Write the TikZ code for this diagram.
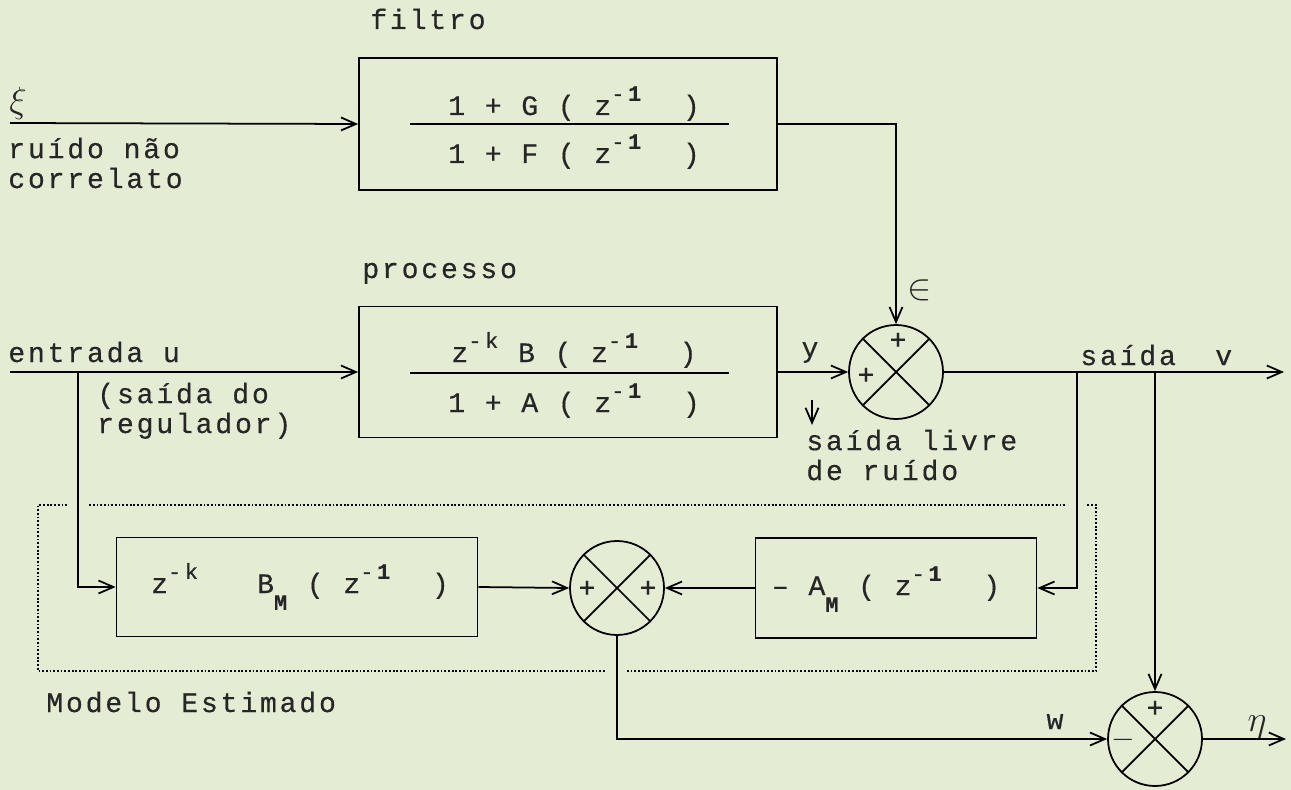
\documentclass[tikz,border=0pt]{standalone}
\usepackage{fontspec}
\usetikzlibrary{arrows.meta, positioning}
\newfontfamily\plotfont[LetterSpace=10, FakeBold=0.4]{Liberation Mono}
\definecolor{paper}{RGB}{228,237,212}
\newcommand{\sups}[1]{\raisebox{0.5em}{\fontsize{12.5}{13}\selectfont #1}}
\newcommand{\subs}[1]{\raisebox{-0.6em}{\fontsize{12.5}{13}\selectfont\bfseries #1}}
\newcommand{\zinv}{z\sups{-\,\textbf{1}}}

\begin{document}
\begin{tikzpicture}[
        x=0.02cm, y=-0.02cm,
        % blocos e somadores
        blk/.style={rectangle, draw=black, line width=1pt, inner sep=0pt},
        soma/.style={circle, draw=black, line width=1pt, minimum size=1.88cm, inner sep=0pt},
        % textos, linhas e setas
        txt/.style={font=\plotfont\fontsize{16}{17}\selectfont, text=black!85, inner sep=0pt},
        grk/.style={font=\fontsize{21}{22}\selectfont, text=black!85, inner sep=0pt},
        wire/.style={line width=1pt, draw=black},
        arrow/.style={wire, -{Straight Barb[length=3mm, width=2.6mm]}},
        model/.style={line width=1.1pt, draw=black, dash pattern=on 1pt off 1.1pt}
    ]
    \useasboundingbox[fill=paper] (0,0) rectangle (1291,790);

    % --- FILTRO ---
    \node[txt, anchor=base west] (L1) at (370,29) {filtro};
    \node[blk, minimum width=8.36cm, minimum height=2.64cm] (Filt) at (568,124) {};
    \draw[wire] (410,124) -- (729,124);
    \node[txt, anchor=base] (FiltN) at (574,115) {1 + G ( \zinv\ \ )};
    \node[txt, anchor=base] (FiltD) at (574,163) {1 + F ( \zinv\ \ )};
    \node[grk] (Xi) at (18,103) {$\xi$};
    \node[txt, anchor=base west, align=left] (L2) at (8,188) {ruído não\\correlato};

    % --- PROCESSO ---
    \node[txt, anchor=base west] (L3) at (362,278) {processo};
    \node[blk, minimum width=8.36cm, minimum height=2.62cm] (Proc) at (568,372) {};
    \draw[wire] (410,373) -- (729,373);
    \node[txt, anchor=base] (ProcN) at (574,362) {z\sups{-\,k} B ( \zinv\ \ )};
    \node[txt, anchor=base] (ProcD) at (574,412) {1 + A ( \zinv\ \ )};
    \node[txt, anchor=base west] (L4) at (8,362) {entrada~u};
    \node[txt, anchor=base west, align=left] (L5) at (97,433) {(saída do\\regulador)};

    % --- SOMADORES ---
    \node[soma] (S1) at (896,372) {};
    \node[soma] (S2) at (617,588) {};
    \node[soma] (S3) at (1155,739) {};
    \foreach \s in {S1,S2,S3} {
        \draw[wire] (\s.north west) -- (\s.south east) (\s.north east) -- (\s.south west);
    }
    \node[txt] at (898,341) {+};
    \node[txt] at (866,376) {+};
    \node[txt] at (587,589) {+};
    \node[txt] at (648,589) {+};
    \node[txt] at (1155,709) {+};
    \node[txt] at (1123,740) {$-$};

    \node[grk] (Eps) at (920,290) {$\in$};
    \node[txt, anchor=base] (Ly) at (810,357) {y};
    \node[txt, anchor=base west] (L6) at (1080,365) {saída~~v};
    \node[txt, anchor=base west, align=left] (L7) at (806,480) {saída livre\\de ruído};

    % --- MODELO ESTIMADO ---
    \node[blk, minimum width=7.22cm, minimum height=1.98cm] (BM) at (297,587) {};
    \node[txt, anchor=base] (BMtxt) at (300,593) {z\sups{-\,k}~~~B\subs{M}~(~\zinv\ \ )};
    \node[blk, minimum width=5.62cm, minimum height=2cm] (AM) at (896,588) {};
    \node[txt, anchor=base] (AMtxt) at (886,595) {\textendash~A\subs{M}~(~\zinv\ \ )};
    \node[txt, anchor=base west] (L8) at (46,712) {Modelo Estimado};
    \node[txt, anchor=base] (Lw) at (1055,729) {w};
    \node[grk] (Leta) at (1257,727) {$\eta$};

    \draw[model] (67,505) -- (38,505) -- (38,671) -- (605,671);
    \draw[model] (627,671) -- (1096,671) -- (1096,505) -- (1087,505);
    \draw[model] (1065,505) -- (88,505);

    % --- LIGACOES ---
    \coordinate (XiIn) at (10,123);
    \coordinate (UIn) at (10,372);
    \coordinate (UBr) at (78,372);
    \coordinate (Br1) at (1077,372);
    \coordinate (Br2) at (1155,372);
    \coordinate (VOut) at (1284,372);
    \coordinate (EtaOut) at (1286,739);
    \coordinate (Yd1) at (812,400);
    \coordinate (Yd2) at (812,425);

    \draw[arrow] (XiIn) -- (Filt.west);
    \draw[arrow] (Filt.east) -| (S1.north);
    \draw[arrow] (UIn) -- (Proc.west);
    \draw[arrow] (Proc.east) -- (S1.west);
    \draw[arrow] (S1.east) -- (VOut);
    \draw[arrow] (Yd1) -- (Yd2);
    \draw[arrow] (UBr) |- (BM.west);
    \draw[arrow] (BM.east) -- (S2.west);
    \draw[arrow] (Br1) |- (AM.east);
    \draw[arrow] (AM.west) -- (S2.east);
    \draw[arrow] (Br2) -- (S3.north);
    \draw[arrow] (S2.south) |- (S3.west);
    \draw[arrow] (S3.east) -- (EtaOut);

\end{tikzpicture}
\end{document}
